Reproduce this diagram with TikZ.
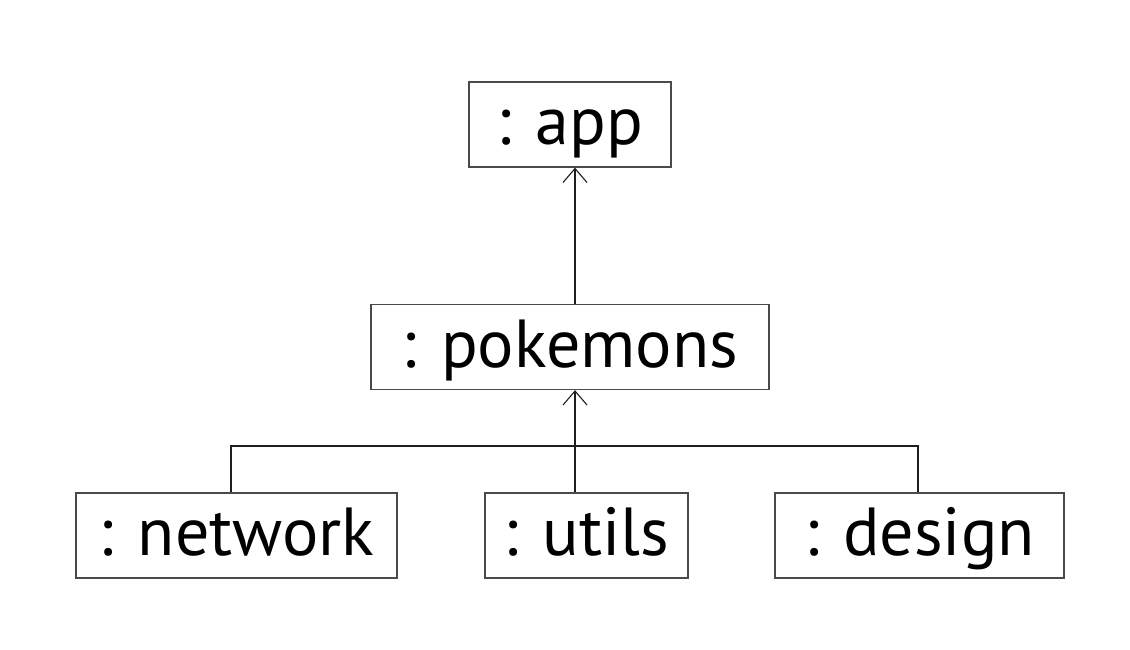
\documentclass[tikz,border=0pt]{standalone}
\usepackage{fontspec}
\setmainfont{PT Sans}
\usetikzlibrary{arrows.meta}
\definecolor{ModuleLine}{HTML}{4A4A4A}
\definecolor{ModuleLink}{HTML}{1E1E1E}

\begin{document}
\begin{tikzpicture}[x=1pt,y=-1pt,
    module/.style={draw=ModuleLine,line width=1.3pt,minimum height=85pt,inner sep=0pt,text height=40pt,text depth=0pt,font=\fontsize{68}{68}\selectfont},
    link/.style={ModuleLink,line width=1.1pt},
    dep/.style={link,-{Straight Barb[length=14pt,width=24pt,line width=1.1pt]}}]
  \useasboundingbox (0,0) rectangle (1130,649);
  \node[module,minimum width=202pt] (app) at (570,124.5) {: app};
  \node[module,minimum width=398pt] (pokemons) at (570,347) {: pokemons};
  \node[module,minimum width=321pt] (network) at (236.5,535.5) {: network};
  \node[module,minimum width=203pt] (utils) at (586.5,535.5) {: utils};
  \node[module,minimum width=289pt] (design) at (919.5,535.5) {: design\hspace{14pt}};
  % bus below pokemons
  \coordinate (hub) at (575,446);
  \coordinate (netdrop) at (231,446);
  \coordinate (desdrop) at (918,446);
  \draw[dep] (pokemons.north -| hub) -- (app.south -| hub);
  \draw[dep] (utils.north -| hub) -- (pokemons.south -| hub);
  \draw[link] (network.north -| netdrop) -- (netdrop) -- (desdrop) -- (design.north -| desdrop);
\end{tikzpicture}
\end{document}
